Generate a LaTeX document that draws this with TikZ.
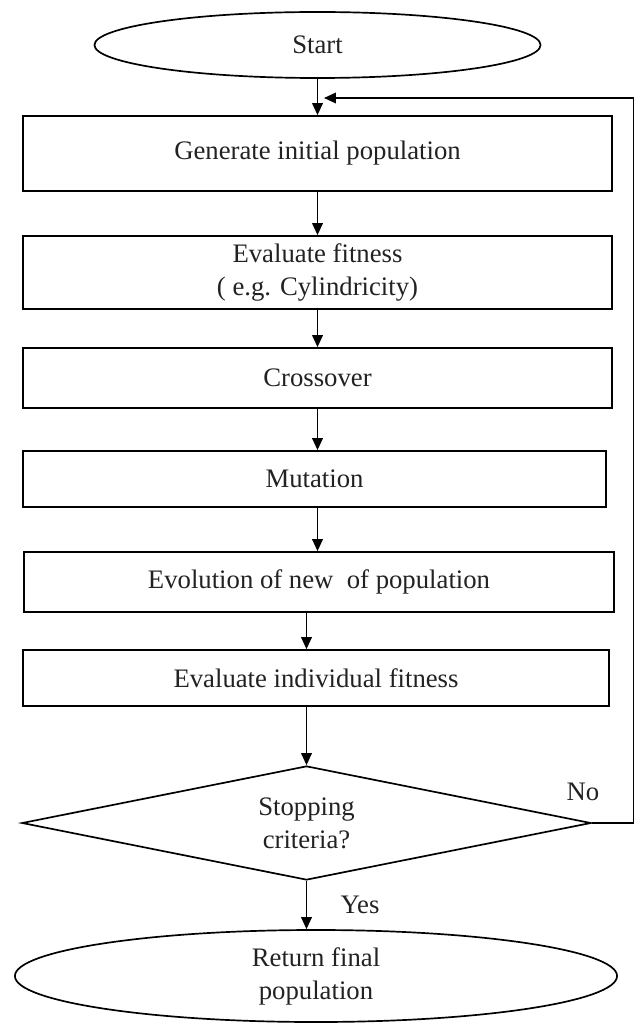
\documentclass[tikz,border=0pt]{standalone}
\usepackage{fontspec}
\setmainfont{Liberation Serif}
\usepackage{tikz}
\usetikzlibrary{shapes.geometric,arrows.meta,positioning,calc}
\definecolor{FlowBlack}{HTML}{000000}
\definecolor{FlowText}{HTML}{222222}
\tikzset{
    % Base node style
    basenode/.style={
        draw=FlowBlack,
        line width=1.2pt,
        text=FlowText,
        align=center,
        inner sep=0pt,
        font=\fontsize{19}{23.5}\selectfont
    },
    % Start / end style
    termnode/.style={
        basenode,
        ellipse
    },
    % Process box style
    processnode/.style={
        basenode,
        rectangle,
        minimum width=14.725cm
    },
    % Decision style
    decisionnode/.style={
        basenode,
        diamond,
        aspect=5
    },
    % Arrow style
    myarrow/.style={
        -{Triangle[length=8.5pt,width=7.5pt]},
        line width=1.2pt,
        draw=FlowBlack
    },
    % Edge label style
    edgelabel/.style={
        text=FlowText,
        font=\fontsize{19}{23.5}\selectfont
    }
}

\begin{document}
\begin{tikzpicture}[x=0.025cm, y=-0.025cm]
    \useasboundingbox (0,0) rectangle (635,1024);

    \node[termnode, minimum width=11.15cm, minimum height=1.65cm] (start) at (317.5,45) {Start};

    \node[processnode, minimum height=1.875cm] (gen) at (317.5,153.5) {Generate initial population};
    \node[processnode, minimum height=1.825cm] (evalfit) at (317.5,272.5) {Evaluate fitness\\( e.g. Cylindricity)};
    \node[processnode, minimum height=1.5cm] (cross) at (317.5,378) {Crossover};
    \node[processnode, minimum width=14.575cm, minimum height=1.4cm] (mut) at (314.5,479) {Mutation};
    \node[processnode, minimum width=14.75cm, minimum height=1.5cm] (evol) at (319,582) {Evolution of new \ of population};
    \node[processnode, minimum width=14.65cm, minimum height=1.4cm] (evalind) at (316,678) {Evaluate individual fitness};

    \node[decisionnode, minimum width=14.225cm, minimum height=2.85cm] (stop) at (306.5,823) {Stopping\\criteria?};

    \node[termnode, minimum width=15.05cm, minimum height=2.3cm] (ret) at (316,976) {Return final\\population};

    \node[edgelabel] (nolabel) at (583,792) {No};
    \node[edgelabel] (yeslabel) at (360,905) {Yes};

    \coordinate (loopcorner) at (633.5,98);
    \coordinate (loopend) at (324,98);

    \draw[myarrow] (start.south) -- (gen.north);
    \draw[myarrow] (gen.south) -- (evalfit.north);
    \draw[myarrow] (evalfit.south) -- (cross.north);
    \draw[myarrow] (cross.south) -- (cross.south |- mut.north);
    \draw[myarrow] (mut.south -| cross.south) -- (cross.south |- evol.north);
    \draw[myarrow] (stop.north |- evol.south) -- (stop.north |- evalind.north);
    \draw[myarrow] (evalind.south -| stop.north) -- (stop.north);
    \draw[myarrow] (stop.south) -- (stop.south |- ret.north);
    \draw[myarrow] (stop.east) -| (loopcorner) -- (loopend);
\end{tikzpicture}
\end{document}
